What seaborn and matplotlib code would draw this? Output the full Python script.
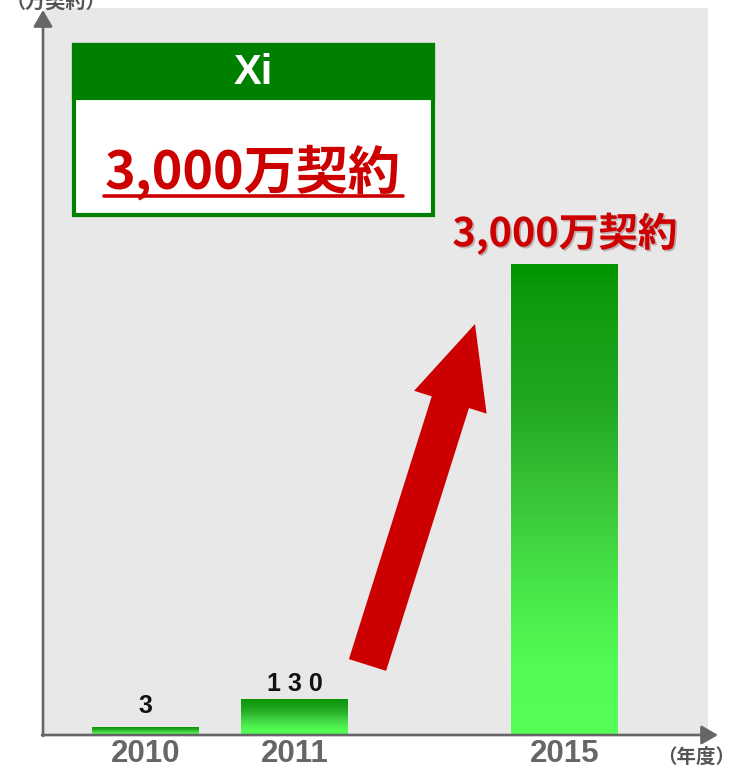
import numpy as np
import pandas as pd
import matplotlib
matplotlib.use("Agg")
import matplotlib.pyplot as plt
import seaborn as sns
from matplotlib.transforms import Affine2D
from matplotlib.patches import Rectangle, FancyArrow
from matplotlib.colors import LinearSegmentedColormap
import matplotlib.patheffects as pe

# ---------------- data ----------------
years = ["2010", "2011", "2015"]
contracts = [3, 130, 3000]                 # 万契約 (values written on the chart)
value_labels = ["3", "1 3 0", ""]         # labels written above the bars
display_heights = [8, 36, 471]            # schematic bar heights as drawn (not to scale)
headline = "3,000万契約"
box_title = "Xi"
y_unit = "（万契約）"
x_unit = "（年度）"

# ---------------- layout / style ----------------
W, H = 735, 768
x_pos = [0, 1, 2.81]
label_offsets_px = [21, 15, 0]
GRAY_AXIS = "#666666"
RED = "#cc0000"
GREEN = "#008000"
CJK = ["Noto Sans CJK JP", "DejaVu Sans"]
LAT = ["Liberation Sans", "DejaVu Sans"]

sns.set_theme(style="white")
plt.rcParams["font.family"] = CJK

fig = plt.figure(figsize=(W / 100, H / 100), dpi=100)
pix = Affine2D().scale(1 / W, -1 / H).translate(0, 1) + fig.transFigure

ax = fig.add_axes([44 / W, (H - 735) / H, (708 - 44) / W, (735 - 8) / H])
ax.set_facecolor("#e8e8e8")

df = pd.DataFrame({"x": x_pos, "h": display_heights, "year": years})
sns.barplot(data=df, x="x", y="h", native_scale=True, width=0.718, ax=ax,
            color="#33cc33", saturation=1, errorbar=None)

xlim = (-0.681, 3.775)
ylim = (0, 727)

cmap = LinearSegmentedColormap.from_list(
    "g", [(0.0, "#009400"), (0.05, "#0c990c"), (0.3, "#22a822"),
          (0.5, "#3ac63a"), (0.7, "#4ae84a"), (0.85, "#53fb53"), (1.0, "#55ff55")])
grad = np.linspace(0, 1, 256).reshape(-1, 1)
for p in list(ax.patches):
    x0, y0 = p.get_x(), p.get_y()
    w, h = p.get_width(), p.get_height()
    im = ax.imshow(grad, cmap=cmap, aspect="auto", origin="upper",
                   extent=[x0, x0 + w, y0, y0 + h], zorder=2)
    im.set_clip_path(p)
    p.set_facecolor("none")
    p.set_edgecolor("none")

ax.set_xlim(*xlim)
ax.set_ylim(*ylim)

for xp, hv, lab, off in zip(x_pos, display_heights, value_labels, label_offsets_px):
    if lab:
        ax.annotate(lab, (xp, hv), xytext=(0, off * 0.72), textcoords="offset points",
                    ha="center", va="center", fontsize=18, fontweight="bold",
                    color="#111111", family=LAT)

ax.set_xticks(x_pos)
ax.set_xticklabels(years, fontsize=22.5, fontweight="bold", color=GRAY_AXIS, family=LAT)
ax.tick_params(axis="x", length=0, pad=3)
ax.set_yticks([])
ax.set_xlabel("")
ax.set_ylabel("")
for s in ax.spines.values():
    s.set_visible(False)

# axis arrows
arrow_kw = dict(arrowstyle="-|>,head_length=1.0,head_width=0.58", color=GRAY_AXIS,
                lw=1.9, shrinkA=0, shrinkB=0, mutation_scale=10)
ax.annotate("", xy=(43, 10), xytext=(43, 736), xycoords=pix, textcoords=pix,
            arrowprops=arrow_kw, annotation_clip=False)
ax.annotate("", xy=(718, 735), xytext=(42, 735), xycoords=pix, textcoords=pix,
            arrowprops=arrow_kw, annotation_clip=False)

# red growth arrow
tail = (367.5, 665)
tip = (475, 324)
fig.patches.append(FancyArrow(tail[0], tail[1], tip[0] - tail[0], tip[1] - tail[1],
                              width=39, head_width=76, head_length=82,
                              length_includes_head=True, color=RED, lw=0,
                              transform=pix, figure=fig))

# headline over 2015 bar
fig.text(565, 234, headline, transform=pix, ha="center", va="center",
         fontsize=28.5, fontweight="bold", color=RED, family=CJK,
         path_effects=[pe.SimplePatchShadow(offset=(1.2, -1.2), alpha=0.25),
                       pe.Normal()])

# Xi box
fig.patches.append(Rectangle((74, 45), 359, 170, transform=pix, figure=fig,
                             facecolor="white", edgecolor=GREEN, lw=3))
fig.patches.append(Rectangle((74, 45), 359, 53, transform=pix, figure=fig,
                             facecolor=GREEN, edgecolor=GREEN, lw=3))
fig.text(253, 73, box_title, transform=pix, ha="center", va="center",
         fontsize=30, fontweight="bold", color="white", family=LAT)
fig.text(253, 172, headline, transform=pix, ha="center", va="center",
         fontsize=37.5, fontweight="bold", color=RED, family=CJK)
fig.lines.append(plt.Line2D([104, 403], [196, 196], transform=pix, color=RED,
                            lw=2.6, figure=fig))

# unit labels
fig.text(56, 1, y_unit, transform=pix, ha="center", va="center",
         fontsize=14.5, fontweight="bold", color="#555555", family=CJK)
fig.text(696, 757, x_unit, transform=pix, ha="center", va="center",
         fontsize=14, fontweight="bold", color="#555555", family=CJK)

fig.savefig("out.png", dpi=100, facecolor="white")
